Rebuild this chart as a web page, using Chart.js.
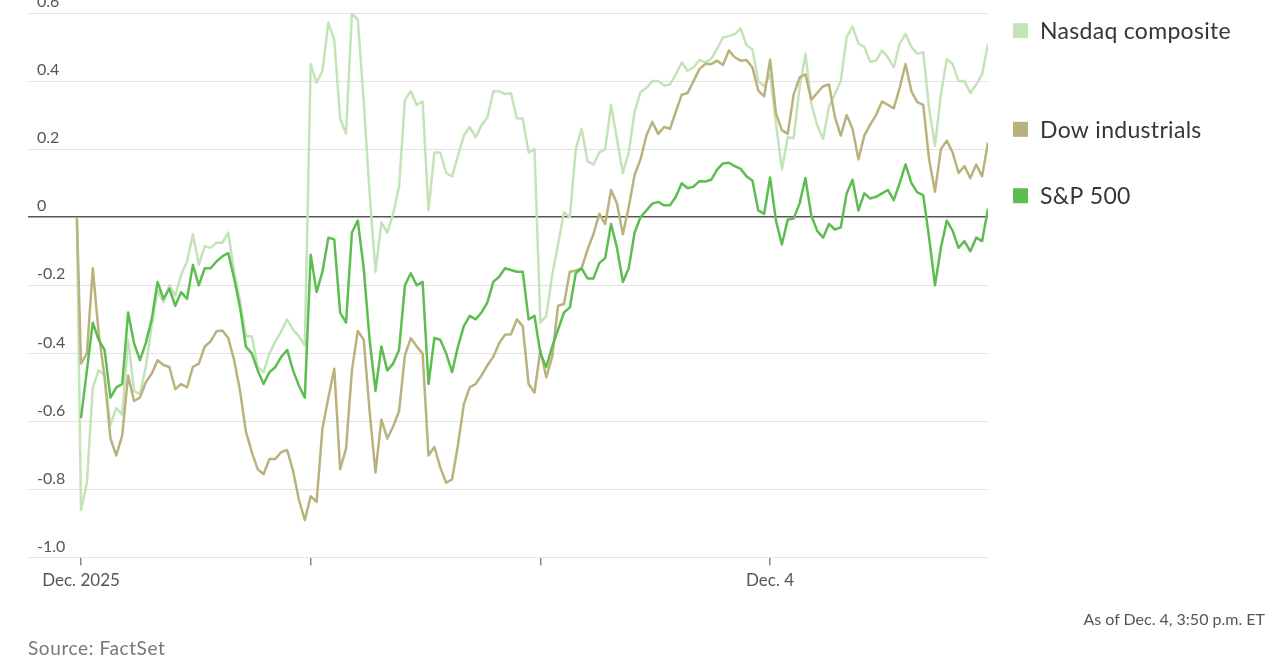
<!DOCTYPE html>
<html>
<head>
<meta charset="utf-8">
<script src="https://cdn.jsdelivr.net/npm/chart.js@4.4.1/dist/chart.umd.min.js"></script>
<style>
  html, body { margin: 0; padding: 0; background: #fff; }
  #wrap { position: relative; width: 1280px; height: 670px; overflow: hidden; font-family: Lato, sans-serif; }
  #chart { position: absolute; left: 0; top: 0; }
  .asof { position: absolute; right: 15px; top: 609px; font-size: 16px; color: #555; }
  .src { position: absolute; left: 28px; top: 636px; font-size: 19px; letter-spacing: 0.6px; color: #777; }
</style>
</head>
<body>
<div id="wrap">
  <canvas id="chart" width="1280" height="670"></canvas>
  <div class="asof">As of Dec. 4, 3:50 p.m. ET</div>
  <div class="src">Source: FactSet</div>
</div>
<script>
// percent change vs. previous close, one reading every 10 trading minutes from Dec. 1 9:30
const stepMin = 10;
const prevCloseMin = -7;          // previous close (0%) shown just before the open
const dayStarts = [0, 390, 780, 1170];
const dayLabels = ['Dec. 2025', '', '', 'Dec. 4'];
const yTicks = [-1.0, -0.8, -0.6, -0.4, -0.2, 0, 0.2, 0.4, 0.6];

const nasdaq = [
  -0.86, -0.78, -0.50, -0.45, -0.465, -0.61, -0.56, -0.58, -0.36, -0.51,
  -0.52, -0.44, -0.32, -0.215, -0.25, -0.20, -0.23, -0.17, -0.13, -0.05,
  -0.14, -0.085, -0.09, -0.075, -0.075, -0.045, -0.16, -0.245, -0.35, -0.35,
  -0.44, -0.455, -0.40, -0.365, -0.335, -0.30, -0.33, -0.35, -0.376, 0.45,
  0.395, 0.43, 0.572, 0.52, 0.29, 0.245, 0.60, 0.58, 0.34, 0.07,
  -0.16, -0.015, -0.045, 0.01, 0.09, 0.345, 0.37, 0.33, 0.34, 0.02,
  0.19, 0.19, 0.13, 0.12, 0.18, 0.24, 0.265, 0.235, 0.27, 0.293,
  0.37, 0.37, 0.362, 0.364, 0.29, 0.29, 0.19, 0.20, -0.31, -0.29,
  -0.17, -0.08, 0.015, 0.0, 0.20, 0.26, 0.165, 0.155, 0.19, 0.20,
  0.33, 0.23, 0.13, 0.19, 0.31, 0.368, 0.38, 0.40, 0.40, 0.387,
  0.39, 0.42, 0.455, 0.43, 0.44, 0.462, 0.455, 0.465, 0.495, 0.528,
  0.532, 0.538, 0.555, 0.505, 0.493, 0.40, 0.385, 0.419, 0.275, 0.14,
  0.235, 0.232, 0.38, 0.48, 0.335, 0.27, 0.23, 0.325, 0.362, 0.40,
  0.53, 0.56, 0.51, 0.50, 0.457, 0.46, 0.49, 0.47, 0.44, 0.51,
  0.538, 0.50, 0.48, 0.485, 0.32, 0.21, 0.36, 0.465, 0.45, 0.40,
  0.40, 0.365, 0.39, 0.42, 0.51
];

const dow = [
  -0.43, -0.40, -0.15, -0.34, -0.47, -0.65, -0.70, -0.64, -0.465, -0.54,
  -0.53, -0.485, -0.46, -0.42, -0.434, -0.44, -0.505, -0.49, -0.50, -0.44,
  -0.43, -0.38, -0.365, -0.335, -0.333, -0.355, -0.42, -0.51, -0.63, -0.69,
  -0.74, -0.755, -0.71, -0.71, -0.69, -0.684, -0.745, -0.83, -0.89, -0.82,
  -0.836, -0.62, -0.53, -0.445, -0.74, -0.68, -0.45, -0.334, -0.36, -0.57,
  -0.75, -0.595, -0.65, -0.615, -0.57, -0.405, -0.355, -0.38, -0.40, -0.70,
  -0.675, -0.735, -0.78, -0.77, -0.67, -0.55, -0.50, -0.49, -0.465, -0.435,
  -0.41, -0.37, -0.345, -0.344, -0.30, -0.32, -0.49, -0.515, -0.39, -0.47,
  -0.41, -0.26, -0.255, -0.16, -0.157, -0.15, -0.095, -0.05, 0.01, -0.02,
  0.08, 0.04, -0.05, 0.03, 0.125, 0.17, 0.24, 0.28, 0.245, 0.265,
  0.26, 0.31, 0.36, 0.365, 0.40, 0.435, 0.45, 0.45, 0.46, 0.447,
  0.49, 0.47, 0.46, 0.462, 0.44, 0.372, 0.355, 0.463, 0.305, 0.256,
  0.245, 0.36, 0.41, 0.42, 0.345, 0.365, 0.385, 0.39, 0.295, 0.24,
  0.30, 0.26, 0.17, 0.24, 0.272, 0.30, 0.34, 0.33, 0.32, 0.38,
  0.45, 0.37, 0.338, 0.33, 0.17, 0.075, 0.20, 0.225, 0.19, 0.13,
  0.15, 0.115, 0.155, 0.12, 0.22
];

const sp500 = [
  -0.59, -0.45, -0.31, -0.36, -0.39, -0.53, -0.50, -0.49, -0.28, -0.37,
  -0.42, -0.37, -0.30, -0.19, -0.24, -0.21, -0.26, -0.22, -0.24, -0.14,
  -0.20, -0.15, -0.15, -0.13, -0.115, -0.105, -0.18, -0.265, -0.38, -0.40,
  -0.45, -0.49, -0.455, -0.44, -0.41, -0.39, -0.45, -0.495, -0.53, -0.11,
  -0.22, -0.16, -0.06, -0.065, -0.28, -0.31, -0.045, -0.01, -0.15, -0.36,
  -0.51, -0.38, -0.45, -0.43, -0.39, -0.20, -0.165, -0.20, -0.19, -0.49,
  -0.355, -0.36, -0.40, -0.455, -0.38, -0.32, -0.29, -0.30, -0.28, -0.25,
  -0.19, -0.175, -0.15, -0.155, -0.16, -0.16, -0.30, -0.29, -0.40, -0.44,
  -0.38, -0.33, -0.28, -0.265, -0.165, -0.15, -0.18, -0.18, -0.135, -0.12,
  -0.02, -0.09, -0.19, -0.15, -0.045, 0.0, 0.02, 0.04, 0.045, 0.035,
  0.035, 0.06, 0.10, 0.085, 0.09, 0.106, 0.105, 0.11, 0.14, 0.158,
  0.16, 0.15, 0.142, 0.12, 0.108, 0.02, 0.01, 0.117, -0.01, -0.08,
  -0.007, -0.004, 0.04, 0.115, 0.005, -0.04, -0.06, -0.02, -0.036, -0.03,
  0.07, 0.11, 0.02, 0.07, 0.055, 0.06, 0.07, 0.08, 0.05, 0.10,
  0.155, 0.10, 0.073, 0.065, -0.06, -0.20, -0.09, -0.01, -0.04, -0.09,
  -0.07, -0.10, -0.06, -0.07, 0.025
];

function toPoints(vals, fromPrevClose) {
  const pts = fromPrevClose ? [{x: prevCloseMin, y: 0}] : [];
  vals.forEach((v, i) => pts.push({x: i * stepMin, y: v}));
  return pts;
}

// legend entries sit at the right end of each line
const endLabels = {
  id: 'endLabels',
  afterDraw(chart) {
    const {ctx, chartArea, scales: {y}} = chart;
    ctx.save();
    ctx.font = '23px Lato';
    ctx.textBaseline = 'middle';
    ctx.letterSpacing = '0.3px';
    chart.data.datasets.forEach(ds => {
      const last = ds.data[ds.data.length - 1].y;
      const py = y.getPixelForValue(last) - 13;
      ctx.fillStyle = ds.borderColor;
      ctx.fillRect(chartArea.right + 25, py - 7.5, 15, 15);
      ctx.fillStyle = '#363636';
      ctx.fillText(ds.label, chartArea.right + 52, py + 1);
    });
    ctx.restore();
  }
};

new Chart(document.getElementById('chart').getContext('2d'), {
  type: 'line',
  data: {
    datasets: [
      { label: 'Nasdaq composite', data: toPoints(nasdaq, true), borderColor: '#c3e3b9', order: 3 },
      { label: 'Dow industrials', data: toPoints(dow, true), borderColor: '#bab27d', order: 2 },
      { label: 'S&P 500', data: toPoints(sp500, false), borderColor: '#5dbd50', order: 1 }
    ]
  },
  options: {
    responsive: false,
    animation: false,
    layout: { padding: { left: 10, right: 292, top: 13, bottom: 74 } },
    plugins: { legend: { display: false }, tooltip: { enabled: false } },
    elements: {
      point: { radius: 0 },
      line: { borderWidth: 2.5, tension: 0, borderJoinStyle: 'round', fill: false }
    },
    scales: {
      x: {
        type: 'linear', min: -90, max: 1540,
        afterBuildTicks: s => { s.ticks = dayStarts.map(v => ({ value: v })); },
        afterFit: s => { s.paddingLeft = 0; s.paddingRight = 0; },
        ticks: {
          autoSkip: false, maxRotation: 0, padding: 5,
          callback: (v, i) => dayLabels[i],
          font: { family: 'Lato', size: 17 }, color: '#555'
        },
        grid: { drawOnChartArea: false, drawTicks: true, tickLength: 8, color: '#888', lineWidth: 1.5 },
        border: { display: false }
      },
      y: {
        min: -1, max: 0.6,
        afterBuildTicks: s => { s.ticks = yTicks.map(v => ({ value: v })); },
        afterFit: s => { s.paddingTop = 0; s.paddingBottom = 0; },
        ticks: {
          mirror: true, padding: 9, labelOffset: -11,
          callback: v => v === 0 ? '0' : v.toFixed(1),
          font: { family: 'Lato', size: 16 }, color: '#555'
        },
        grid: {
          drawTicks: false,
          color: c => c.tick.value === 0 ? '#555' : '#e2e2e2',
          lineWidth: c => c.tick.value === 0 ? 1.5 : 1
        },
        border: { display: false }
      }
    }
  },
  plugins: [endLabels]
});
</script>
</body>
</html>
